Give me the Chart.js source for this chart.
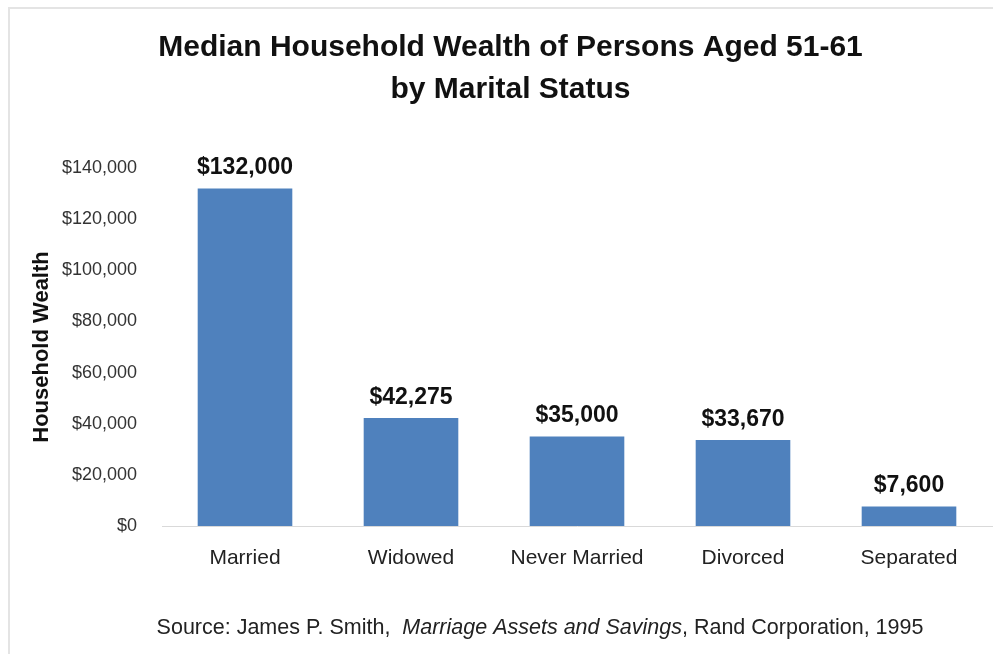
<!DOCTYPE html>
<html>
<head>
<meta charset="utf-8">
<script src="https://cdn.jsdelivr.net/npm/chart.js@4"></script>
<style>
  html, body { margin: 0; padding: 0; background: #fff; overflow: hidden; }
  #frame { position: absolute; left: 8px; top: 7px; width: 1000px; height: 700px;
           border-top: 2px solid #e4e4e4; border-left: 2px solid #e4e4e4; }
  #wrap { position: absolute; left: 0; top: 0; width: 993px; height: 654px; }
</style>
</head>
<body>
<div id="frame"></div>
<div id="wrap"><canvas id="myChart" width="993" height="654"></canvas></div>
<script>
const categories = ["Married", "Widowed", "Never Married", "Divorced", "Separated"];
const wealth = [132000, 42275, 35000, 33670, 7600];
const yTicks = [0, 20000, 40000, 60000, 80000, 100000, 120000, 140000];

const FONT = "'Liberation Sans', Arial, sans-serif";
const money = v => "$" + v.toLocaleString("en-US");

// value labels above bars + source line
const labelsPlugin = {
  id: "labels",
  afterDatasetsDraw(chart) {
    const ctx = chart.ctx;
    const meta = chart.getDatasetMeta(0);
    ctx.save();
    ctx.font = "bold 23px " + FONT;
    ctx.fillStyle = "#111";
    ctx.textAlign = "center";
    ctx.textBaseline = "bottom";
    meta.data.forEach((bar, i) => {
      ctx.fillText(money(wealth[i]), bar.x, bar.y - 9);
    });
    ctx.restore();
  },
  afterDraw(chart) {
    const ctx = chart.ctx;
    const parts = [
      ["Source: James P. Smith,  ", "21.5px " + FONT],
      ["Marriage Assets and Savings", "italic 21.5px " + FONT],
      [", Rand Corporation, 1995", "21.5px " + FONT]
    ];
    ctx.save();
    ctx.fillStyle = "#222";
    ctx.textBaseline = "middle";
    ctx.textAlign = "left";
    let total = 0;
    parts.forEach(p => { ctx.font = p[1]; total += ctx.measureText(p[0]).width; });
    let x = 540 - total / 2;
    parts.forEach(p => {
      ctx.font = p[1];
      ctx.fillText(p[0], x, 628);
      x += ctx.measureText(p[0]).width;
    });
    ctx.restore();
  }
};

const ctx = document.getElementById("myChart").getContext("2d");
new Chart(ctx, {
  type: "bar",
  data: {
    labels: categories,
    datasets: [{
      data: wealth,
      label: "Household Wealth",
      backgroundColor: "#4F81BD",
      borderWidth: 0,
      categoryPercentage: 0.57,
      barPercentage: 1
    }]
  },
  options: {
    responsive: false,
    animation: false,
    layout: { padding: { left: 29, right: 1, top: 27, bottom: 0 } },
    plugins: {
      legend: { display: false },
      tooltip: { enabled: false },
      title: {
        display: true,
        text: ["Median Household Wealth of Persons Aged 51-61", "by Marital Status"],
        font: { family: FONT, size: 30, weight: "bold", lineHeight: 1.4 },
        color: "#111",
        padding: { top: 0, bottom: 57 }
      }
    },
    scales: {
      x: {
        grid: { display: false },
        border: { display: true, color: "#d9d9d9", width: 1 },
        ticks: { font: { family: FONT, size: 21 }, color: "#222", padding: 12 },
        afterFit(scale) { scale.height = 128; }
      },
      y: {
        min: 0,
        max: 140000,
        afterBuildTicks(scale) { scale.ticks = yTicks.map(v => ({ value: v })); },
        grid: { display: false },
        border: { display: false },
        ticks: { font: { family: FONT, size: 18 }, color: "#333", padding: 17, callback: v => money(v) },
        title: {
          display: true,
          text: "Household Wealth",
          font: { family: FONT, size: 22, weight: "bold" },
          color: "#111",
          padding: 0
        },
        afterFit(scale) { scale.width = 133; }
      }
    }
  },
  plugins: [labelsPlugin]
});
</script>
</body>
</html>
